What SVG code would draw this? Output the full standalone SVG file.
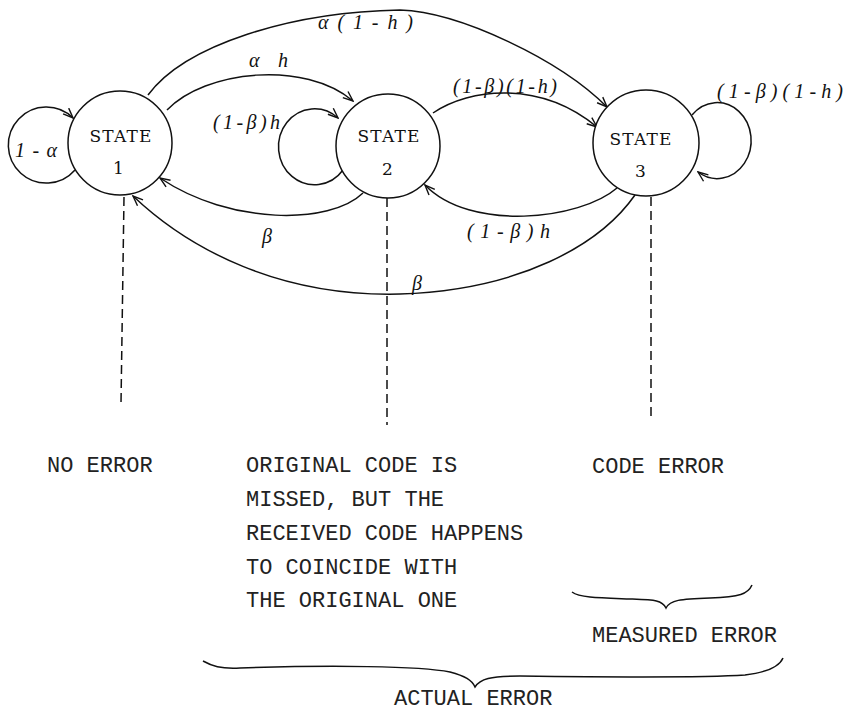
<svg xmlns="http://www.w3.org/2000/svg" width="850" height="713" viewBox="0 0 850 713">
<style>
.st{fill:#fff;stroke:#111;stroke-width:1.5}
.sl{font-family:"DejaVu Serif","Liberation Serif",serif;font-size:17px;letter-spacing:1.2px;fill:#111;text-anchor:middle}
.e{fill:none;stroke:#111;stroke-width:1.5}
.ea{fill:none;stroke:#111;stroke-width:1.5;marker-end:url(#ah)}
.d{fill:none;stroke:#111;stroke-width:1.5;stroke-dasharray:9 5}
.lb{font-family:"Liberation Serif","DejaVu Serif",serif;font-style:italic;font-size:20px;fill:#111}
.tw{font-family:"Liberation Mono","DejaVu Sans Mono",monospace;font-size:22px;fill:#222}
</style>
<defs>
<marker id="ah" viewBox="0 0 12 10" refX="11" refY="5" markerWidth="12" markerHeight="10" markerUnits="userSpaceOnUse" orient="auto">
<path d="M1,1 L11,5 L1,9" fill="none" stroke="#111" stroke-width="1.4"/>
</marker>
</defs>
<rect width="850" height="713" fill="#fff"/>
<g id="connectors">
<path class="ea" d="M75,170 A38 38 0 1 1 73,118"/>
<path class="ea" d="M343,170 A36 38 0 1 1 338,118"/>
<path class="ea" d="M692,115 A34 38 0 1 1 698,172"/>
<path class="ea" d="M148,95 C185,45 290,12 400,10 C460,12 560,60 607,107"/>
<path class="ea" d="M167,110 C205,70 305,60 353,101"/>
<path class="ea" d="M433,113 C470,88 540,80 597,127"/>
<path class="ea" d="M363,193 C330,225 230,225 160,178"/>
<path class="ea" d="M617,188 C580,220 470,232 425,185"/>
<path class="ea" d="M635,195 C600,245 520,290 400,294 C280,297 190,250 133,196"/>
<path class="d" d="M124,197 L121,404"/>
<path class="d" d="M387,198 L387,425"/>
<path class="d" d="M651,197 L651,420"/>
</g>
<g id="edge-labels">
<text class="lb" x="15" y="157" textLength="42" lengthAdjust="spacing">1-α</text>
<text class="lb" x="213" y="129" textLength="67" lengthAdjust="spacing">(1-β)h</text>
<text class="lb" x="249" y="67" textLength="39" lengthAdjust="spacing">αh</text>
<text class="lb" x="318" y="29" textLength="95" lengthAdjust="spacing">α(1-h)</text>
<text class="lb" x="453" y="93" textLength="104" lengthAdjust="spacing">(1-β)(1-h)</text>
<text class="lb" x="717" y="98" textLength="126" lengthAdjust="spacing">(1-β)(1-h)</text>
<text class="lb" x="262" y="243">β</text>
<text class="lb" x="467" y="238" textLength="83" lengthAdjust="spacing">(1-β)h</text>
<text class="lb" x="412" y="290">β</text>
</g>
<g id="state1">
<circle class="st" cx="120" cy="143" r="52"/>
<text class="sl" x="121" y="142">STATE</text>
<text class="sl" x="119" y="174">1</text>
</g>
<g id="state2">
<circle class="st" cx="388" cy="146" r="52"/>
<text class="sl" x="389" y="142">STATE</text>
<text class="sl" x="388" y="175">2</text>
</g>
<g id="state3">
<circle class="st" cx="646" cy="143" r="53"/>
<text class="sl" x="641" y="145">STATE</text>
<text class="sl" x="641" y="177">3</text>
</g>
<g id="annotations">
<text class="tw" x="47" y="472">NO ERROR</text>
<text class="tw" x="246" y="472">ORIGINAL CODE IS</text>
<text class="tw" x="246" y="506">MISSED, BUT THE</text>
<text class="tw" x="246" y="540">RECEIVED CODE HAPPENS</text>
<text class="tw" x="246" y="574">TO COINCIDE WITH</text>
<text class="tw" x="246" y="607">THE ORIGINAL ONE</text>
<text class="tw" x="592" y="473">CODE ERROR</text>
<text class="tw" x="592" y="642">MEASURED ERROR</text>
<text class="tw" x="394" y="705">ACTUAL ERROR</text>
<path class="e" d="M572,592 C580,598 600,598 630,599 C655,600 662,600 666,608 C670,600 680,599 710,598 C740,597 748,594 752,585"/>
<path class="e" d="M203,661 C212,666 220,669 240,668 C330,665 420,666 450,672 C465,676 472,680 475,687 C480,679 490,676 520,676 C600,677 700,678 745,675 C770,672 780,665 783,658"/>
</g>
</svg>
